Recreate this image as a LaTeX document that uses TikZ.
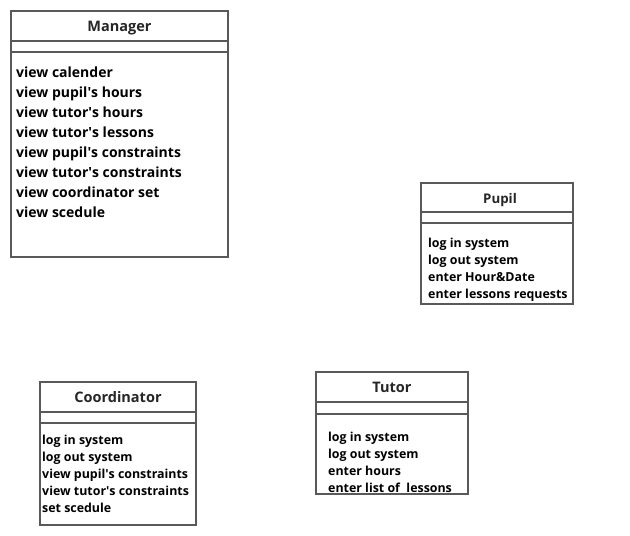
\documentclass[tikz,border=0pt]{standalone}
\usepackage{fontspec}
\setmainfont{Open Sans}
\tikzset{
  classbox/.style={draw=black!65, line width=1.6pt, fill=white},
  sepline/.style={draw=black!65, line width=1.6pt},
  classname/.style={font=\bfseries\fontsize{14.5}{16}\selectfont, text=black!85, inner sep=0pt,
    text height=10.8pt, text depth=0pt},
  bigop/.style={font=\bfseries\fontsize{14}{16}\selectfont, anchor=west, inner sep=0pt,
    text height=10.5pt, text depth=0pt},
  smallop/.style={font=\bfseries\fontsize{12.4}{14}\selectfont, anchor=west, inner sep=0pt,
    text height=9.3pt, text depth=0pt},
}
\newcommand{\apos}{\textquotesingle}
\begin{document}
\begin{tikzpicture}[x=1pt, y=-1pt]
    \useasboundingbox (0,0) rectangle (630,536);

    % Manager
    \draw[classbox] (11,11) rectangle (228,257);
    \draw[sepline] (11,41) -- (228,41);
    \draw[sepline] (11,52) -- (228,52);
    \node[classname] (manager) at (119.5,26) {Manager};
    \node[bigop] (m1) at (16,72) {view calender};
    \node[bigop] (m2) at (16,92) {view pupil\apos s hours};
    \node[bigop] (m3) at (16,112) {view tutor\apos s hours};
    \node[bigop] (m4) at (16,132) {view tutor\apos s lessons};
    \node[bigop] (m5) at (16,152) {view pupil\apos s constraints};
    \node[bigop] (m6) at (16,172) {view tutor\apos s constraints};
    \node[bigop] (m7) at (16,192) {view coordinator set};
    \node[bigop] (m8) at (16,212) {view scedule};

    % Pupil
    \draw[classbox] (421,183) rectangle (573,304);
    \draw[sepline] (421,212) -- (573,212);
    \draw[sepline] (421,223) -- (573,223);
    \node[classname, font=\bfseries\fontsize{13.3}{15}\selectfont, text height=9.9pt] (pupil) at (500,199) {Pupil};
    \node[smallop] (p1) at (428,243) {log in system};
    \node[smallop] (p2) at (428,260) {log out system};
    \node[smallop] (p3) at (428,277) {enter Hour\&Date};
    \node[smallop] (p4) at (428,294) {enter lessons requests};

    % Coordinator
    \draw[classbox] (40,382) rectangle (196,525);
    \draw[sepline] (40,412) -- (196,412);
    \draw[sepline] (40,423) -- (196,423);
    \node[classname] (coordinator) at (118,397) {Coordinator};
    \node[smallop] (c1) at (42,440) {log in system};
    \node[smallop] (c2) at (42,457) {log out system};
    \node[smallop] (c3) at (42,474) {view pupil\apos s constraints};
    \node[smallop] (c4) at (42,491) {view tutor\apos s constraints};
    \node[smallop] (c5) at (42,508) {set scedule};

    % Tutor
    \draw[classbox] (316,372) rectangle (468,494);
    \draw[sepline] (316,402) -- (468,402);
    \draw[sepline] (316,414) -- (468,414);
    \node[classname] (tutor) at (392,387) {Tutor};
    \node[smallop] (t1) at (328,437) {log in system};
    \node[smallop] (t2) at (328,454) {log out system};
    \node[smallop] (t3) at (328,471) {enter hours};
    \node[smallop] (t4) at (328,488) {enter list of\ \ lessons};

\end{tikzpicture}
\end{document}
